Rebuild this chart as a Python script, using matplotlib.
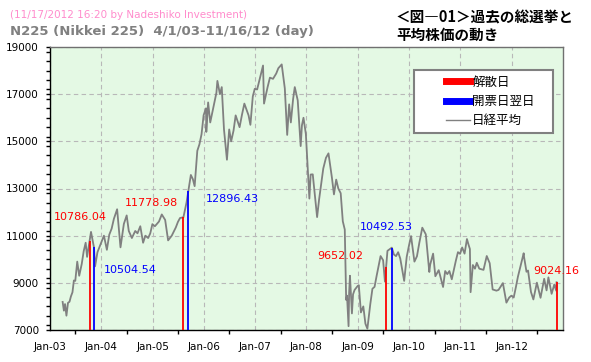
import matplotlib
matplotlib.use("Agg")
import matplotlib.pyplot as plt
import matplotlib.dates as mdates
from matplotlib.lines import Line2D
from matplotlib.legend_handler import HandlerLine2D
from datetime import datetime

plt.rcParams['font.family'] = ['DejaVu Sans', 'Noto Sans CJK JP']

# ---- data ----
nikkei_dates = [
    "2003-04-01", "2003-04-10", "2003-04-18", "2003-04-28", "2003-05-09", "2003-05-20", "2003-05-30",
    "2003-06-10", "2003-06-20", "2003-06-30", "2003-07-14", "2003-07-28", "2003-08-15", "2003-08-29",
    "2003-09-12", "2003-09-22", "2003-10-10", "2003-10-20", "2003-11-10", "2003-11-18", "2003-12-05",
    "2003-12-30", "2004-01-20", "2004-02-10", "2004-02-27", "2004-03-15", "2004-03-31", "2004-04-23",
    "2004-05-17", "2004-06-10", "2004-06-30", "2004-07-15", "2004-08-06", "2004-08-30", "2004-09-15",
    "2004-10-05", "2004-10-25", "2004-11-10", "2004-11-30", "2004-12-15", "2004-12-30", "2005-01-17",
    "2005-02-15", "2005-03-07", "2005-03-31", "2005-04-21", "2005-05-17", "2005-06-15", "2005-06-30",
    "2005-07-15", "2005-08-08", "2005-08-30", "2005-09-12", "2005-09-30", "2005-10-14", "2005-10-27",
    "2005-11-15", "2005-11-30", "2005-12-15", "2005-12-30", "2006-01-16", "2006-01-18", "2006-01-31",
    "2006-02-15", "2006-03-01", "2006-03-31", "2006-04-07", "2006-04-25", "2006-05-08", "2006-05-24",
    "2006-06-14", "2006-06-30", "2006-07-14", "2006-07-31", "2006-08-15", "2006-09-12", "2006-09-29",
    "2006-10-16", "2006-11-15", "2006-11-28", "2006-12-15", "2006-12-29", "2007-01-15", "2007-02-26",
    "2007-03-05", "2007-03-30", "2007-04-16", "2007-05-08", "2007-05-31", "2007-06-15", "2007-07-09",
    "2007-07-31", "2007-08-17", "2007-08-31", "2007-09-12", "2007-09-28", "2007-10-10", "2007-10-31",
    "2007-11-21", "2007-11-30", "2007-12-11", "2007-12-28", "2008-01-22", "2008-01-31", "2008-02-15",
    "2008-03-17", "2008-03-31", "2008-04-30", "2008-05-19", "2008-06-06", "2008-06-30", "2008-07-15",
    "2008-07-31", "2008-08-15", "2008-09-01", "2008-09-16", "2008-09-30", "2008-10-10", "2008-10-16",
    "2008-10-27", "2008-10-31", "2008-11-06", "2008-11-20", "2008-11-28", "2008-12-09", "2008-12-30",
    "2009-01-08", "2009-01-23", "2009-02-09", "2009-02-24", "2009-03-10", "2009-03-31", "2009-04-15",
    "2009-04-30", "2009-05-15", "2009-06-12", "2009-06-30", "2009-07-13", "2009-07-21", "2009-07-31",
    "2009-08-31", "2009-09-15", "2009-09-30", "2009-10-15", "2009-10-30", "2009-11-27", "2009-12-15",
    "2009-12-30", "2010-01-15", "2010-02-08", "2010-02-26", "2010-03-15", "2010-04-05", "2010-04-30",
    "2010-05-25", "2010-05-31", "2010-06-21", "2010-07-07", "2010-07-31", "2010-08-31", "2010-09-15",
    "2010-09-30", "2010-10-15", "2010-11-01", "2010-11-30", "2010-12-15", "2010-12-30", "2011-01-14",
    "2011-01-31", "2011-02-17", "2011-02-28", "2011-03-10", "2011-03-15", "2011-03-31", "2011-04-15",
    "2011-04-28", "2011-05-16", "2011-06-15", "2011-07-08", "2011-07-29", "2011-08-19", "2011-09-15",
    "2011-09-30", "2011-10-31", "2011-11-25", "2011-12-15", "2011-12-30", "2012-01-16", "2012-01-31",
    "2012-02-15", "2012-03-27", "2012-03-30", "2012-04-16", "2012-04-27", "2012-05-18", "2012-06-04",
    "2012-06-29", "2012-07-25", "2012-08-20", "2012-09-06", "2012-09-19", "2012-10-12", "2012-10-31",
    "2012-11-14", "2012-11-16",
]
nikkei_values = [
    8190, 7820, 8100, 7607, 8150, 8200, 8425,
    8600, 9100, 9083, 9900, 9300, 9800, 10344,
    10700, 10100, 10786, 11160, 10505, 9700, 10300,
    10677, 11000, 10400, 11041, 11300, 11715, 12120,
    10505, 11500, 11858, 11200, 10900, 11200, 11100,
    11400, 10700, 11000, 10899, 11100, 11489, 11400,
    11600, 11900, 11668, 10800, 11000, 11350, 11584,
    11750, 11779, 12400, 12896, 13574, 13400, 13100,
    14600, 14872, 15300, 16111, 16400, 15400, 16650,
    15800, 16200, 17060, 17563, 17000, 17300, 15500,
    14219, 15505, 15000, 15457, 16100, 15600, 16128,
    16600, 16100, 15700, 16900, 17226, 17200, 18215,
    16600, 17288, 17700, 17650, 17876, 18100, 18262,
    17249, 15273, 16569, 15800, 16786, 17300, 16737,
    14800, 15681, 16000, 15308, 12573, 13592, 13600,
    11787, 12526, 13850, 14300, 14490, 13481, 12750,
    13377, 13000, 12800, 11609, 11260, 8276, 8458,
    7162, 8577, 9300, 7703, 8512, 8700, 8860,
    8900, 7745, 8000, 7268, 7054, 8110, 8750,
    8828, 9300, 10135, 9958, 9050, 9652, 10357,
    10493, 10200, 10133, 10300, 10035, 9081, 10100,
    10546, 10982, 9900, 10126, 10700, 11339, 11057,
    9460, 9769, 10238, 9280, 9537, 8824, 9500,
    9369, 9500, 9150, 9937, 10300, 10229, 10500,
    10238, 10857, 10624, 10434, 8605, 9755, 9600,
    9850, 9600, 9550, 10137, 9833, 8719, 8668,
    8700, 8988, 8160, 8377, 8455, 8378, 8803,
    9260, 10255, 10084, 9470, 9521, 8611, 8296,
    9007, 8366, 9171, 8680, 9232, 8534, 8928,
    8665, 9024,
]

dissolution_dates = ["2003-10-10", "2005-08-08", "2009-07-21", "2012-11-16"]
dissolution_values = [10786.04, 11778.98, 9652.02, 9024.16]
nextday_dates = ["2003-11-10", "2005-09-12", "2009-08-31"]
nextday_values = [10504.54, 12896.43, 10492.53]

year_ticks = [2003, 2004, 2005, 2006, 2007, 2008, 2009, 2010, 2011, 2012]
legend_labels = ["解散日", "開票日翌日　", "日経平均"]

# label offsets (points) relative to the top of each line
diss_offsets = [(-7, 17), (-23, 10), (-33, 8), (0, 8)]
next_offsets = [(26, -16), (32, -6), (-4, 15)]

def d(s):
    return datetime.strptime(s, "%Y-%m-%d")

fig = plt.figure(figsize=(5.91, 3.62), dpi=100)
ax = fig.add_axes([50/591, 32/362, 513/591, 283/362])
ax.set_facecolor('#e4f9e4')

ax.plot([d(s) for s in nikkei_dates], nikkei_values, color='#808080', lw=1.3, zorder=3)

for s, v, (ox, oy) in zip(dissolution_dates, dissolution_values, diss_offsets):
    ax.vlines(d(s), 7000, v, color='#ff0000', lw=1.3, zorder=4)
    ax.annotate(f"{v:.2f}", xy=(d(s), v), xytext=(ox, oy), textcoords='offset points',
                ha='center', va='center', color='#ff0000', fontsize=8, zorder=5)
for s, v, (ox, oy) in zip(nextday_dates, nextday_values, next_offsets):
    ax.vlines(d(s), 7000, v, color='#0000ff', lw=1.3, zorder=4)
    ax.annotate(f"{v:.2f}", xy=(d(s), v), xytext=(ox, oy), textcoords='offset points',
                ha='center', va='center', color='#0000ff', fontsize=8, zorder=5)

ax.set_xlim(datetime(2003, 1, 1), datetime(2013, 1, 1))
ax.set_ylim(7000, 19000)
ax.set_yticks(range(7000, 19001, 2000))
ax.yaxis.set_minor_locator(matplotlib.ticker.MultipleLocator(400))
ax.set_xticks([datetime(y, 1, 1) for y in year_ticks])
ax.xaxis.set_major_formatter(mdates.DateFormatter('%b-%y'))
ax.xaxis.set_minor_locator(mdates.MonthLocator(bymonth=7))

ax.tick_params(axis='x', which='major', length=0, pad=9, labelsize=7.5)
ax.tick_params(axis='x', which='minor', length=3, width=1, direction='out')
ax.tick_params(axis='y', which='both', length=3, width=1, direction='out', pad=5, labelsize=7.5)

ax.grid(True, which='major', color='#b8b8b8', linestyle=(0, (4, 3)), lw=0.8)
for sp in ['left', 'bottom']:
    ax.spines[sp].set_color('black')
    ax.spines[sp].set_linewidth(1.0)
for sp in ['top', 'right']:
    ax.spines[sp].set_color('#707070')
    ax.spines[sp].set_linewidth(1.0)

handles = [Line2D([], [], color='#ff0000', lw=5),
           Line2D([], [], color='#0000ff', lw=5),
           Line2D([], [], color='#808080', lw=1)]
hmap = {h: HandlerLine2D(xpad=2.1) for h in handles}
leg = ax.legend(handles, legend_labels, loc='upper left', handler_map=hmap,
                bbox_to_anchor=(0.7096, 0.9187), fancybox=False, framealpha=1,
                edgecolor='#808080', prop={'family': ['Noto Sans CJK JP'], 'size': 9},
                handlelength=4.0, borderpad=0.45, labelspacing=0.5, handletextpad=0.2,
                borderaxespad=0)
leg.get_frame().set_linewidth(1.5)
leg.set_zorder(6)

fig.text(10/591, 1 - 15/362, "(11/17/2012 16:20 by Nadeshiko Investment)", color='#ff8ccc',
         fontsize=7.5, va='center', ha='left')
fig.text(10/591, 1 - 31/362, "N225 (Nikkei 225)  4/1/03-11/16/12 (day)", color='#808080',
         fontsize=9.5, fontweight='bold', va='center', ha='left')
fig.text(396/591, 1 - 17/362, "＜図―01＞過去の総選挙と", color='black', fontsize=10.5,
         fontweight='bold', va='center', ha='left', family=['Noto Sans CJK JP', 'DejaVu Sans'])
fig.text(396/591, 1 - 35/362, "平均株価の動き", color='black', fontsize=10.5,
         fontweight='bold', va='center', ha='left', family=['Noto Sans CJK JP', 'DejaVu Sans'])

fig.savefig("out.png", dpi=100)
